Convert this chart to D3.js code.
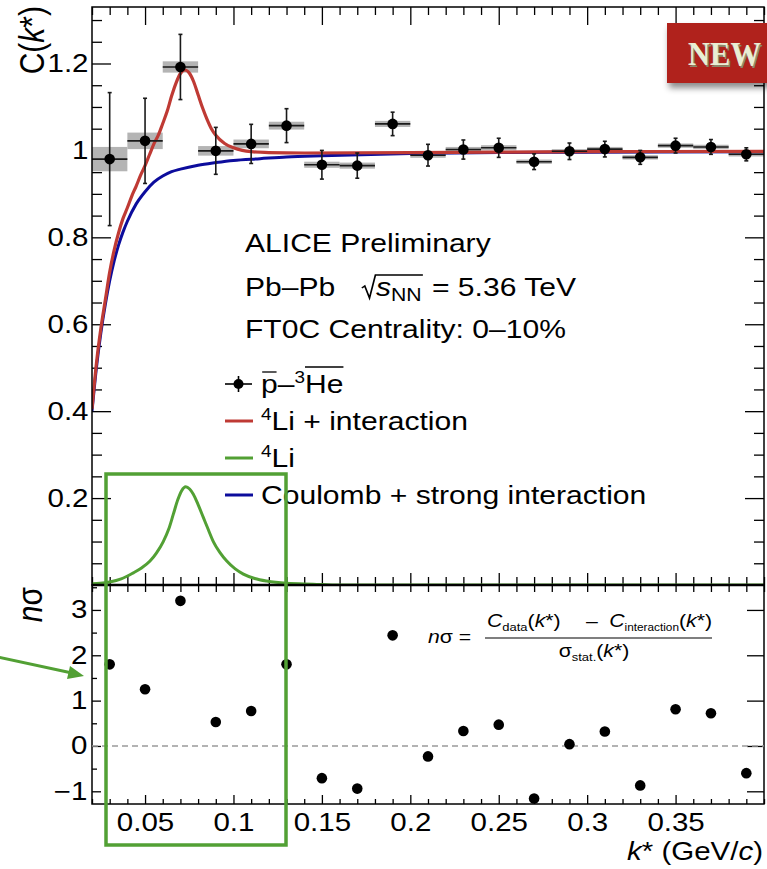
<!DOCTYPE html>
<html>
<head>
<meta charset="utf-8">
<script src="https://cdn.jsdelivr.net/npm/d3@7"></script>
<style>
  body { margin: 0; background: #fff; }
  svg { display: block; }
</style>
</head>
<body>
<svg id="chart" width="767" height="869"></svg>
<script>
// ---- measured correlation function, p̄–³He̅, Pb–Pb 0–10% ----
const kCenters = [0.03, 0.05, 0.07, 0.09, 0.11, 0.13, 0.15, 0.17, 0.19, 0.21,
                  0.23, 0.25, 0.27, 0.29, 0.31, 0.33, 0.35, 0.37, 0.39];
const binWidth = 0.02;
const cfValues = [0.980, 1.022, 1.192, 0.999, 1.015, 1.057, 0.967, 0.965, 1.061, 0.989,
                  1.002, 1.006, 0.974, 0.998, 1.003, 0.984, 1.011, 1.008, 0.991];
const statErr  = [0.153, 0.098, 0.075, 0.054, 0.045, 0.039, 0.033, 0.029, 0.027, 0.025,
                  0.022, 0.022, 0.018, 0.019, 0.018, 0.016, 0.017, 0.017, 0.015];
const sysErr   = [0.028, 0.019, 0.013, 0.011, 0.010, 0.009, 0.007, 0.007, 0.007, 0.006,
                  0.006, 0.006, 0.005, 0.005, 0.005, 0.005, 0.005, 0.005, 0.005];
// deviation of data from the 4Li + interaction model
const nSigma   = [1.80, 1.25, 3.20, 0.53, 0.77, 1.80, -0.71, -0.94, 2.44, -0.23,
                  0.33, 0.47, -1.16, 0.04, 0.32, -0.87, 0.81, 0.72, -0.60];

// ---- model curves ----
const totalK = [0.020, 0.0225, 0.025, 0.0275, 0.030, 0.0325, 0.035, 0.0375, 0.040, 0.0425,
                0.045, 0.0475, 0.050, 0.0525, 0.055, 0.0575, 0.060, 0.0625, 0.065, 0.0675,
                0.070, 0.0725, 0.075, 0.0775, 0.080, 0.0825, 0.085, 0.0875, 0.090, 0.095,
                0.100, 0.105, 0.110, 0.120, 0.140, 0.200, 0.300, 0.400];
const totalC = [0.405, 0.510, 0.590, 0.655, 0.720, 0.770, 0.810, 0.843, 0.868, 0.895,
                0.918, 0.943, 0.965, 0.990, 1.015, 1.035, 1.062, 1.090, 1.125, 1.155,
                1.177, 1.185, 1.178, 1.158, 1.128, 1.098, 1.072, 1.050, 1.035, 1.016,
                1.006, 1.000, 0.997, 0.995, 0.994, 0.995, 0.997, 0.998];

const coulombK = [0.020, 0.0225, 0.025, 0.0275, 0.030, 0.0325, 0.035, 0.0375, 0.040, 0.045,
                  0.050, 0.055, 0.060, 0.065, 0.070, 0.080, 0.090, 0.100, 0.115, 0.130,
                  0.150, 0.200, 0.250, 0.300, 0.400];
const coulombC = [0.400, 0.500, 0.580, 0.645, 0.700, 0.745, 0.782, 0.812, 0.837, 0.877,
                  0.905, 0.927, 0.941, 0.951, 0.957, 0.966, 0.972, 0.977, 0.981, 0.985,
                  0.988, 0.993, 0.995, 0.996, 0.997];

const li4K = [0.020, 0.0245, 0.030, 0.0365, 0.0434, 0.0480, 0.0528, 0.0565, 0.0603, 0.0635,
              0.0660, 0.0685, 0.0707, 0.0730, 0.0752, 0.0773, 0.0800, 0.0830, 0.0858, 0.0886,
              0.0925, 0.0962, 0.1010, 0.1056, 0.1120, 0.1188, 0.1301, 0.145, 0.160, 0.250, 0.400];
const li4C = [0.003, 0.004, 0.007, 0.014, 0.028, 0.039, 0.055, 0.074, 0.100, 0.130,
              0.163, 0.196, 0.217, 0.226, 0.221, 0.209, 0.185, 0.155, 0.127, 0.100,
              0.074, 0.055, 0.037, 0.025, 0.015, 0.009, 0.004, 0.002, 0.000, 0.000, 0.000];

// ---- axis tick values ----
const xTickValues = [0.05, 0.1, 0.15, 0.2, 0.25, 0.3, 0.35];
const cfTickValues = [0.2, 0.4, 0.6, 0.8, 1, 1.2];
const nsTickValues = [-1, 0, 1, 2, 3];

// ---- layout ----
const FONT = '"Liberation Sans", Arial, Helvetica, sans-serif';
const SX = 1.18;              // horizontal glyph stretch of all lettering
const plotL = 92, plotR = 764;
const topT = 7, split = 585, botB = 804;

const svg = d3.select("#chart");
svg.append("rect").attr("width", 767).attr("height", 869).attr("fill", "#fff");

const x = d3.scaleLinear().domain([0.02, 0.40]).range([plotL, plotR]);
const yC = d3.scaleLinear().domain([0, 1.33]).range([split, topT]);
const yN = d3.scaleLinear().domain([-1.28, 3.55]).range([botB, split]);

const RED = "#bf3a34", BLUE = "#0c0c9c", GREEN = "#52a034";

// ---------- helpers ----------
function styleAxis(g, size) {
  g.select(".domain").remove();
  g.selectAll("line").attr("stroke", "#000").attr("stroke-width", 1.3);
  g.attr("font-family", FONT).attr("font-size", size || 25);
  g.selectAll("text").attr("fill", "#000").attr("transform", `scale(${SX},1)`);
}
function minorValues(lo, hi, step, majors) {
  return d3.range(Math.round(lo / step), Math.round(hi / step) + 1)
    .map(i => +(i * step).toFixed(4))
    .filter(v => !majors.some(m => Math.abs(m - v) < 1e-6));
}
// text block with stretched glyphs; parts: [{t, italic, size, dy}]
function label(x0, y0, parts, opt = {}) {
  const g = svg.append("g")
    .attr("transform", `translate(${x0},${y0}) scale(${SX},1)` + (opt.rotate ? ` rotate(${opt.rotate})` : ""));
  const t = g.append("text")
    .attr("font-family", FONT)
    .attr("font-size", opt.size || 25.5)
    .attr("text-anchor", opt.anchor || "start")
    .attr("fill", opt.fill || "#000");
  parts.forEach(p => {
    const s = t.append("tspan").text(p.t);
    if (p.italic) s.attr("font-style", "italic");
    if (p.size) s.attr("font-size", p.size);
    if (p.dy) s.attr("dy", p.dy);
  });
  return { g, t };
}

// ---------- top panel axes ----------
const cfMinor = minorValues(0.05, 1.30, 0.05, cfTickValues);
const xMinor = minorValues(0.02, 0.40, 0.01, xTickValues);

styleAxis(svg.append("g").attr("transform", `translate(${plotL},0)`)
  .call(d3.axisLeft(yC).tickValues(cfTickValues).tickSize(-19).tickPadding(3)
    .tickFormat(d => d === 1 ? "1" : d3.format(".1f")(d))));
styleAxis(svg.append("g").attr("transform", `translate(${plotL},0)`)
  .call(d3.axisLeft(yC).tickValues(cfMinor).tickSize(-10).tickFormat("")));
styleAxis(svg.append("g").attr("transform", `translate(${plotR},0)`)
  .call(d3.axisRight(yC).tickValues(cfTickValues).tickSize(-19).tickFormat("")));
styleAxis(svg.append("g").attr("transform", `translate(${plotR},0)`)
  .call(d3.axisRight(yC).tickValues(cfMinor).tickSize(-10).tickFormat("")));
styleAxis(svg.append("g").attr("transform", `translate(0,${topT})`)
  .call(d3.axisTop(x).tickValues(xTickValues).tickSize(-18).tickFormat("")));
styleAxis(svg.append("g").attr("transform", `translate(0,${topT})`)
  .call(d3.axisTop(x).tickValues(xMinor).tickSize(-8).tickFormat("")));
styleAxis(svg.append("g").attr("transform", `translate(0,${split})`)
  .call(d3.axisBottom(x).tickValues(xTickValues).tickSize(-12).tickFormat("")));
styleAxis(svg.append("g").attr("transform", `translate(0,${split})`)
  .call(d3.axisBottom(x).tickValues(xMinor).tickSize(-8).tickFormat("")));

// ---------- bottom panel axes ----------
const nsMinor = minorValues(-1.0, 3.5, 0.5, nsTickValues);
styleAxis(svg.append("g").attr("transform", `translate(${plotL},0)`)
  .call(d3.axisLeft(yN).tickValues(nsTickValues).tickSize(-9).tickPadding(4)
    .tickFormat(d => d < 0 ? "\u2212" + Math.abs(d) : String(d))));
styleAxis(svg.append("g").attr("transform", `translate(${plotL},0)`)
  .call(d3.axisLeft(yN).tickValues(nsMinor).tickSize(-5).tickFormat("")));
styleAxis(svg.append("g").attr("transform", `translate(${plotR},0)`)
  .call(d3.axisRight(yN).tickValues(nsTickValues).tickSize(-17).tickFormat("")));
styleAxis(svg.append("g").attr("transform", `translate(0,${botB})`)
  .call(d3.axisBottom(x).tickValues(xTickValues).tickSize(-9).tickPadding(9)
    .tickFormat(d => String(+d.toFixed(2)))));
styleAxis(svg.append("g").attr("transform", `translate(0,${botB})`)
  .call(d3.axisBottom(x).tickValues(xMinor).tickSize(-5).tickFormat("")));
styleAxis(svg.append("g").attr("transform", `translate(0,${split})`)
  .call(d3.axisTop(x).tickValues(xTickValues.concat(xMinor)).tickSize(-7).tickFormat("")));

// ---------- top panel content ----------
svg.append("clipPath").attr("id", "clipTop").append("rect")
  .attr("x", plotL).attr("y", topT).attr("width", plotR - plotL).attr("height", split - topT);
const topPanel = svg.append("g").attr("clip-path", "url(#clipTop)");

const points = kCenters.map((k, i) => ({ k, c: cfValues[i], st: statErr[i], sy: sysErr[i] }));

// systematic boxes
topPanel.selectAll("rect.sys").data(points).join("rect").attr("class", "sys")
  .attr("x", d => x(d.k - binWidth / 2)).attr("width", d => x(d.k + binWidth / 2) - x(d.k - binWidth / 2))
  .attr("y", d => yC(d.c + d.sy)).attr("height", d => yC(d.c - d.sy) - yC(d.c + d.sy))
  .attr("fill", "#b4b4b4");

// model curves
const curve = (ks, cs) => d3.line().x((d, i) => x(ks[i])).y((d, i) => yC(cs[i])).curve(d3.curveMonotoneX)(ks);
topPanel.append("path").attr("d", curve(li4K, li4C)).attr("fill", "none").attr("stroke", GREEN).attr("stroke-width", 3);
topPanel.append("path").attr("d", curve(coulombK, coulombC)).attr("fill", "none").attr("stroke", BLUE).attr("stroke-width", 3);
topPanel.append("path").attr("d", curve(totalK, totalC)).attr("fill", "none").attr("stroke", RED).attr("stroke-width", 3.2);

// statistical error bars and markers
const bars = topPanel.append("g").attr("stroke", "#1a1a1a").attr("stroke-width", 1.6);
points.forEach(d => {
  bars.append("line").attr("x1", x(d.k - binWidth / 2)).attr("x2", x(d.k + binWidth / 2))
    .attr("y1", yC(d.c)).attr("y2", yC(d.c));
  bars.append("line").attr("x1", x(d.k)).attr("x2", x(d.k))
    .attr("y1", yC(d.c + d.st)).attr("y2", yC(d.c - d.st));
  [d.c + d.st, d.c - d.st].forEach(v =>
    bars.append("line").attr("x1", x(d.k) - 2).attr("x2", x(d.k) + 2).attr("y1", yC(v)).attr("y2", yC(v)));
});
topPanel.selectAll("circle.pt").data(points).join("circle").attr("class", "pt")
  .attr("cx", d => x(d.k)).attr("cy", d => yC(d.c)).attr("r", 5.3).attr("fill", "#000");

// frames (the shared edge is drawn over the curves' baseline)
svg.append("rect").attr("x", plotL).attr("y", topT).attr("width", plotR - plotL).attr("height", split - topT)
  .attr("fill", "none").attr("stroke", "#000").attr("stroke-width", 1.5);
svg.append("rect").attr("x", plotL).attr("y", split).attr("width", plotR - plotL).attr("height", botB - split)
  .attr("fill", "none").attr("stroke", "#000").attr("stroke-width", 1.5);
svg.append("line").attr("x1", plotL).attr("x2", plotR).attr("y1", split).attr("y2", split)
  .attr("stroke", "#000").attr("stroke-width", 2.6);

// ---------- bottom panel content ----------
svg.append("line").attr("x1", plotL).attr("x2", plotR).attr("y1", yN(0)).attr("y2", yN(0))
  .attr("stroke", "#9a9a9a").attr("stroke-width", 1.4).attr("stroke-dasharray", "6,4");
svg.append("g").selectAll("circle").data(kCenters).join("circle")
  .attr("cx", d => x(d)).attr("cy", (d, i) => yN(nSigma[i])).attr("r", 5.3).attr("fill", "#000");

// ---------- axis titles ----------
label(44, 6, [{ t: "C(" }, { t: "k", italic: true }, { t: "*)" }], { rotate: -90, anchor: "end", size: 30 });
label(42, 587, [{ t: "n", italic: true }, { t: "σ" }], { rotate: -90, anchor: "end", size: 30 });
label(763, 860, [{ t: "k", italic: true }, { t: "* (GeV/" }, { t: "c", italic: true }, { t: ")" }], { anchor: "end", size: 25 });

// ---------- collision system text ----------
label(245, 252, [{ t: "ALICE Preliminary" }]);
label(245, 296, [{ t: "Pb–Pb" }]);
{
  const r = label(376, 296, [{ t: "s", italic: true }, { t: "NN", size: 18, dy: 5 }]);
  const node = r.t.node();
  const xEnd = node.getEndPositionOfChar(2).x;
  r.g.append("path")
    .attr("d", `M-12,-8 L-9.5,-10 L-5.5,2 L-0.5,-21 L${xEnd + 1},-21`)
    .attr("fill", "none").attr("stroke", "#000").attr("stroke-width", 1.4);
}
label(576, 296, [{ t: "= 5.36 TeV" }], { anchor: "end" });
label(245, 338, [{ t: "FT0C Centrality: 0–10%" }]);

// ---------- legend ----------
const legY = [384, 421, 458, 495];
const lg = svg.append("g");
lg.append("line").attr("x1", 225).attr("x2", 252).attr("y1", legY[0]).attr("y2", legY[0]).attr("stroke", "#000").attr("stroke-width", 1.6);
lg.append("line").attr("x1", 238.5).attr("x2", 238.5).attr("y1", legY[0] - 8).attr("y2", legY[0] + 8).attr("stroke", "#000").attr("stroke-width", 1.6);
lg.append("circle").attr("cx", 238.5).attr("cy", legY[0]).attr("r", 5).attr("fill", "#000");
[[RED, 1], [GREEN, 2], [BLUE, 3]].forEach(([c, i]) =>
  lg.append("line").attr("x1", 225).attr("x2", 253).attr("y1", legY[i]).attr("y2", legY[i]).attr("stroke", c).attr("stroke-width", 3));
{
  const r = label(261, legY[0] + 9, [{ t: "p" }, { t: "–" }, { t: "3", size: 16, dy: -10 }, { t: "He", dy: 10 }]);
  const n = r.t.node();
  const p0 = n.getStartPositionOfChar(0).x, p1 = n.getEndPositionOfChar(0).x;
  const h0 = n.getStartPositionOfChar(3).x, h1 = n.getEndPositionOfChar(4).x;
  r.g.append("line").attr("x1", p0 + 1).attr("x2", p1 - 1).attr("y1", -21).attr("y2", -21).attr("stroke", "#000").attr("stroke-width", 1.3);
  r.g.append("line").attr("x1", h0).attr("x2", h1).attr("y1", -26).attr("y2", -26).attr("stroke", "#000").attr("stroke-width", 1.3);
}
label(261, legY[1] + 9, [{ t: "4", size: 16, dy: -10 }, { t: "Li + interaction", dy: 10 }]);
label(261, legY[2] + 9, [{ t: "4", size: 16, dy: -10 }, { t: "Li", dy: 10 }]);
label(261, legY[3] + 9, [{ t: "Coulomb + strong interaction" }]);

// ---------- nσ definition ----------
label(428, 643, [{ t: "n", italic: true }, { t: "σ =" }], { size: 18 });
label(487, 627, [{ t: "C", italic: true }, { t: "data", size: 11, dy: 4 }, { t: "(", dy: -4 }, { t: "k", italic: true }, { t: "*)" }], { size: 18 });
label(592, 627, [{ t: "–" }], { size: 18, anchor: "middle" });
label(712, 627, [{ t: "C", italic: true }, { t: "interaction", size: 10, dy: 4 }, { t: "(", dy: -4 }, { t: "k", italic: true }, { t: "*)" }], { size: 18, anchor: "end" });
svg.append("line").attr("x1", 485).attr("x2", 712).attr("y1", 638).attr("y2", 638).attr("stroke", "#000").attr("stroke-width", 1.2);
label(594, 657, [{ t: "σ" }, { t: "stat.", size: 11, dy: 4 }, { t: "(", dy: -4 }, { t: "k", italic: true }, { t: "*)" }], { size: 18, anchor: "middle" });

// ---------- highlight box and arrow ----------
svg.append("rect").attr("x", 106).attr("y", 474).attr("width", 180).attr("height", 371)
  .attr("fill", "none").attr("stroke", GREEN).attr("stroke-width", 3.5);
svg.append("line").attr("x1", -2).attr("y1", 657).attr("x2", 72).attr("y2", 673)
  .attr("stroke", GREEN).attr("stroke-width", 3);
svg.append("path").attr("d", "M84,676 L67,679 L70,666 Z").attr("fill", GREEN);

// ---------- NEW badge ----------
const defs = svg.append("defs");
const f = defs.append("filter").attr("id", "badgeShadow").attr("x", "-20%").attr("y", "-20%").attr("width", "140%").attr("height", "160%");
f.append("feDropShadow").attr("dx", 2).attr("dy", 5).attr("stdDeviation", 3).attr("flood-color", "#000").attr("flood-opacity", 0.45);
svg.append("rect").attr("x", 667).attr("y", 23).attr("width", 110).attr("height", 60)
  .attr("fill", "#b0241b").attr("filter", "url(#badgeShadow)");
const badgeText = (dx, dy, fill) => svg.append("g")
  .attr("transform", `translate(${688 + dx},${65 + dy}) scale(0.9,1)`)
  .append("text").attr("font-family", '"Liberation Serif", "DejaVu Serif", serif')
  .attr("font-weight", "bold").attr("font-size", 34).attr("fill", fill).text("NEW");
badgeText(1.5, 1.5, "#8e8a6c");
badgeText(0, 0, "#e9eed4");
</script>
</body>
</html>
